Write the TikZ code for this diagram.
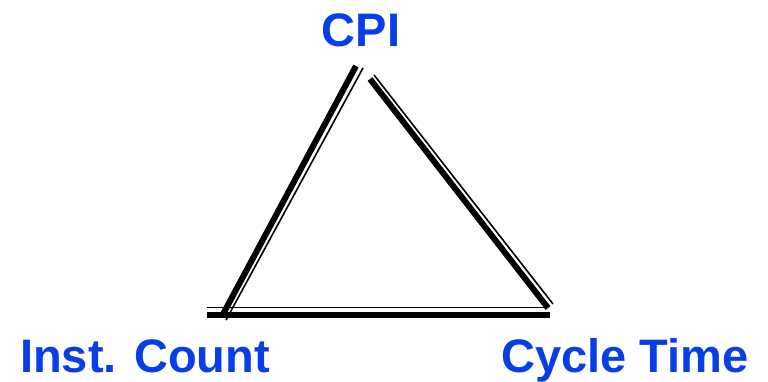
\documentclass[tikz,border=0pt]{standalone}
\usepackage{fontspec}
\setmainfont{Liberation Sans}
\definecolor{lblblue}{RGB}{8,62,232}
\begin{document}
\begin{tikzpicture}[x=1pt,y=-1pt,
  thickedge/.style={line width=6pt},
  thinedge/.style={line width=1.6pt},
  lbl/.style={text=lblblue,font=\fontsize{47}{51}\selectfont\bfseries,inner sep=0pt,anchor=base west}]
\useasboundingbox (0,0) rectangle (768,381);
% labels
\node[lbl,anchor=base] (cpi) at (361,46) {CPI};
\node[lbl] (ic) at (20,372) {Inst. Count};
\node[lbl] (ct) at (501,372) {Cycle Time};
% edge endpoints
\coordinate (l1) at (222,316); \coordinate (l2) at (356,66);
\coordinate (l3) at (226,320); \coordinate (l4) at (363,68);
\coordinate (r1) at (370,79); \coordinate (r2) at (548,308);
\coordinate (r3) at (374,75); \coordinate (r4) at (553,304);
\coordinate (b1) at (207,315); \coordinate (b2) at (550,315);
\coordinate (b3) at (207,307.5); \coordinate (b4) at (548,307.5);
% edges
\draw[thickedge] (l1) -- (l2);
\draw[thinedge] (l3) -- (l4);
\draw[thickedge] (r1) -- (r2);
\draw[thinedge] (r3) -- (r4);
\draw[thickedge] (b1) -- (b2);
\draw[thinedge] (b3) -- (b4);
\end{tikzpicture}
\end{document}
